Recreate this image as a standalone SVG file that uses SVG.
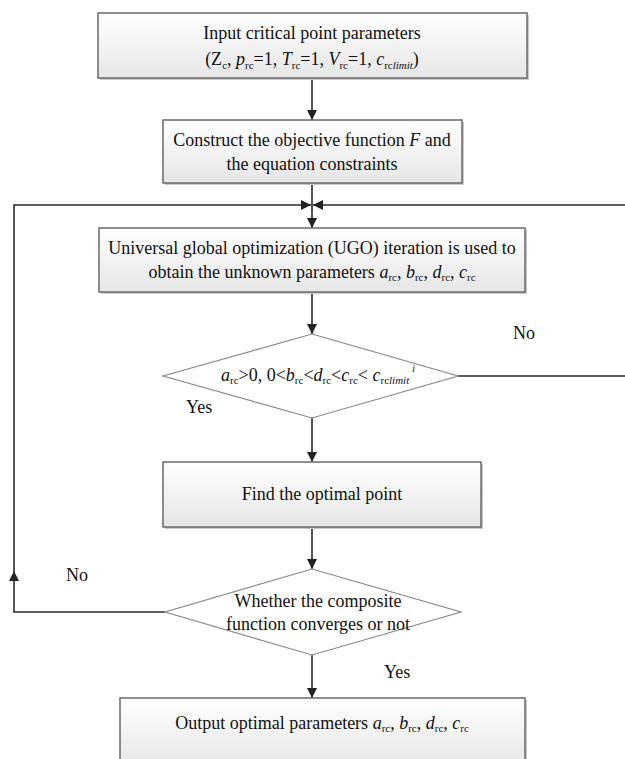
<svg xmlns="http://www.w3.org/2000/svg" width="625" height="759" viewBox="0 0 625 759">
<defs>
<linearGradient id="g" x1="0" y1="0" x2="0" y2="1">
<stop offset="0" stop-color="#ffffff"/>
<stop offset="1" stop-color="#e6e6e6"/>
</linearGradient>
<marker id="ah" viewBox="0 0 10 10" refX="10" refY="5" markerWidth="10" markerHeight="10" markerUnits="userSpaceOnUse" orient="auto">
<path d="M0,0 L10,5 L0,10 z" fill="#222"/>
</marker>
<marker id="ahm" viewBox="0 0 10 10" refX="5" refY="5" markerWidth="10" markerHeight="10" markerUnits="userSpaceOnUse" orient="auto">
<path d="M0,0 L10,5 L0,10 z" fill="#222"/>
</marker>
</defs>
<style>
.box{fill:url(#g);stroke:#6a6a6a;stroke-width:1.5}
.shadow{fill:#c8c8c8}
.dia{fill:#ffffff;stroke:#8a8a8a;stroke-width:1.2}
.t{font-family:"Liberation Serif","Times New Roman",serif;font-size:18px;fill:#111;text-anchor:middle}
.lbl{font-family:"Liberation Serif","Times New Roman",serif;font-size:18px;fill:#111}
.i{font-style:italic}
.s{font-size:11px}
.c{fill:none;stroke:#2a2a2a;stroke-width:1.6}
</style>
<rect width="625" height="759" fill="#ffffff"/>
<g id="connectors">
<line class="c" x1="312" y1="78" x2="312" y2="120" marker-end="url(#ah)"/>
<line class="c" x1="312" y1="183" x2="312" y2="228" marker-end="url(#ah)"/>
<line class="c" x1="312" y1="292" x2="312" y2="334" marker-end="url(#ah)"/>
<line class="c" x1="312" y1="418" x2="312" y2="462" marker-end="url(#ah)"/>
<line class="c" x1="312" y1="527" x2="312" y2="569" marker-end="url(#ah)"/>
<line class="c" x1="312" y1="655" x2="312" y2="698" marker-end="url(#ah)"/>
<polyline class="c" points="165,612 14,612 14,576" marker-end="url(#ahm)"/>
<polyline class="c" points="14,578 14,205 311,205" marker-end="url(#ah)"/>
<polyline class="c" points="458,376 630,376 630,205 313,205" marker-end="url(#ah)"/>
</g>
<g id="n1">
<rect class="shadow" x="100" y="15" width="429" height="65"/>
<rect class="box" x="98" y="13" width="429" height="65"/>
<text class="t" x="312" y="39">Input critical point parameters</text>
<text class="t" x="312" y="65">(Z<tspan class="s" dy="4">c</tspan><tspan dy="-4">, </tspan><tspan class="i">p</tspan><tspan class="s" dy="4">rc</tspan><tspan dy="-4">=1, </tspan><tspan class="i">T</tspan><tspan class="s" dy="4">rc</tspan><tspan dy="-4">=1, </tspan><tspan class="i">V</tspan><tspan class="s" dy="4">rc</tspan><tspan dy="-4">=1, </tspan><tspan class="i">c</tspan><tspan class="s" dy="4">rc</tspan><tspan class="s i">limit</tspan><tspan dy="-4">)</tspan></text>
</g>
<g id="n2">
<rect class="shadow" x="165" y="122" width="299" height="63"/>
<rect class="box" x="163" y="120" width="299" height="63"/>
<text class="t" x="312" y="146">Construct the objective function <tspan class="i">F</tspan> and</text>
<text class="t" x="312" y="170">the equation constraints</text>
</g>
<g id="n3">
<rect class="shadow" x="101" y="230" width="426" height="64"/>
<rect class="box" x="99" y="228" width="426" height="64"/>
<text class="t" x="312" y="254">Universal global optimization (UGO) iteration is used to</text>
<text class="t" x="312" y="278">obtain the unknown parameters <tspan class="i">a</tspan><tspan class="s" dy="3">rc</tspan><tspan dy="-3">, </tspan><tspan class="i">b</tspan><tspan class="s" dy="3">rc</tspan><tspan dy="-3">, </tspan><tspan class="i">d</tspan><tspan class="s" dy="3">rc</tspan><tspan dy="-3">, </tspan><tspan class="i">c</tspan><tspan class="s" dy="3">rc</tspan></text>
</g>
<g id="d1">
<polygon class="dia" points="312,334 458,376 312,418 163,376"/>
<text class="t" x="318" y="381"><tspan class="i">a</tspan><tspan class="s" dy="3">rc</tspan><tspan dy="-3">&gt;0, 0&lt;</tspan><tspan class="i">b</tspan><tspan class="s" dy="3">rc</tspan><tspan dy="-3">&lt;</tspan><tspan class="i">d</tspan><tspan class="s" dy="3">rc</tspan><tspan dy="-3">&lt;</tspan><tspan class="i">c</tspan><tspan class="s" dy="3">rc</tspan><tspan dy="-3">&lt; </tspan><tspan class="i">c</tspan><tspan class="s" dy="3">rc</tspan><tspan class="s i">limit</tspan><tspan class="s i" dy="-12"> i</tspan></text>
</g>
<g id="n4">
<rect class="shadow" x="165" y="464" width="318" height="65"/>
<rect class="box" x="163" y="462" width="318" height="65"/>
<text class="t" x="322" y="500">Find the optimal point</text>
</g>
<g id="d2">
<polygon class="dia" points="312,569 461,612 312,655 165,612"/>
<text class="t" x="318" y="607">Whether the composite</text>
<text class="t" x="318" y="630">function converges or not</text>
</g>
<g id="n5">
<rect class="shadow" x="122" y="700" width="405" height="70"/>
<rect class="box" x="120" y="698" width="405" height="70"/>
<text class="t" x="322" y="729">Output optimal parameters <tspan class="i">a</tspan><tspan class="s" dy="3">rc</tspan><tspan dy="-3">, </tspan><tspan class="i">b</tspan><tspan class="s" dy="3">rc</tspan><tspan dy="-3">, </tspan><tspan class="i">d</tspan><tspan class="s" dy="3">rc</tspan><tspan dy="-3">, </tspan><tspan class="i">c</tspan><tspan class="s" dy="3">rc</tspan></text>
</g>
<g id="labels">
<text class="lbl" x="513" y="339">No</text>
<text class="lbl" x="186" y="413">Yes</text>
<text class="lbl" x="66" y="581">No</text>
<text class="lbl" x="384" y="678">Yes</text>
</g>
</svg>
